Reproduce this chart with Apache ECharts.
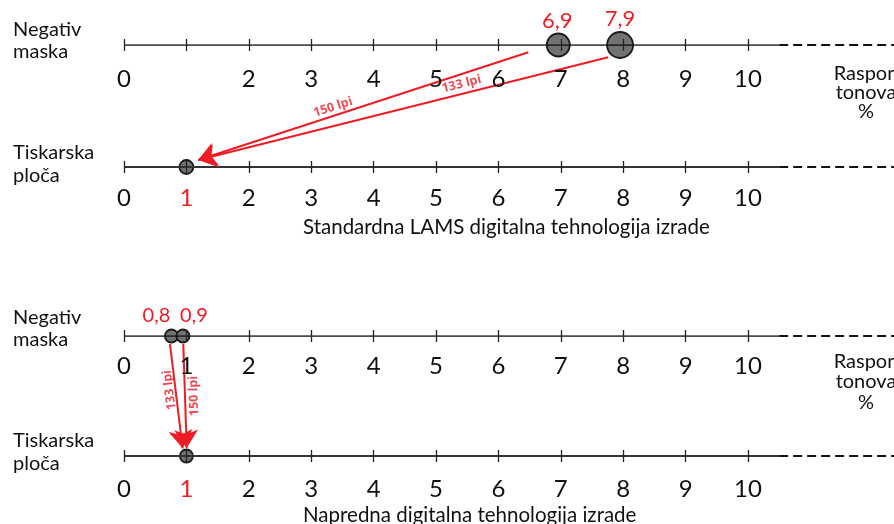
<!DOCTYPE html>
<html><head><meta charset="utf-8">
<script src="https://cdn.jsdelivr.net/npm/echarts@6/dist/echarts.min.js"></script>
<style>html,body{margin:0;padding:0;background:#fff}#c{width:894px;height:524px}</style>
</head><body><div id="c"></div>
<script>
// ---------- data ----------
const tickValues = [0,1,2,3,4,5,6,7,8,9,10];
const stdNegTickLabels = [0,2,3,4,5,6,7,8,9,10];
const allTickLabels = [0,1,2,3,4,5,6,7,8,9,10];
const highlightTick = 1;
const axisSolidEnd = 10.5;
const axisDashedEnd = 12.34;

// Standardna LAMS digitalna tehnologija izrade
const stdNegValues = [6.96, 7.95];
const stdNegLabels = ['6,9', '7,9'];
const stdPlateValues = [1];
const stdArrowNames = ['150 lpi', '133 lpi'];
const stdArrowFrom = [[6.48, 0.94], [7.76, 0.90]];
const stdArrowTo = [[1.19, 0.057], [1.19, 0.057]];
const stdArrowLabelAt = [[3.35, 0.49], [5.41, 0.68]];
const stdArrowAngle = [18, 14];

// Napredna digitalna tehnologija izrade
const advNegValues = [0.76, 0.945];
const advNegLabels = ['0,8', '0,9'];
const advPlateValues = [1];
const advArrowNames = ['133 lpi', '150 lpi'];
const advArrowFrom = [[0.737, 0.933], [0.95, 0.933]];
const advArrowTo = [[0.94, 0.064], [1.005, 0.067]];
const advArrowLabelAt = [[0.73, 0.55], [1.12, 0.5]];
const advArrowAngle = [97, 92];

// ---------- styles ----------
const RED = '#ee1c24';
const FONT = 'Lato';
const stdNegSizes = [23, 26];
const stdNegOffsets = [[-1, 0], [0, 0]];
const advNegOffsets = [[-15, 0], [11, 0]];

const chart = echarts.init(document.getElementById('c'), null, {renderer: 'canvas'});

function tickAxis(grid, labels, red, margin) {
  return {
    type: 'value', gridIndex: grid, position: 'bottom', min: 0, max: axisDashedEnd,
    offset: -6, z: 10,
    axisLine: {show: false},
    splitLine: {show: false},
    axisTick: {show: true, customValues: tickValues, length: 12, inside: false,
      lineStyle: {color: '#222', width: 1.3}},
    axisLabel: {show: true, customValues: labels, margin: margin,
      fontFamily: FONT, fontSize: 24, color: '#111',
      formatter: v => (red && v === highlightTick) ? '{r|' + v + '}' : String(v),
      rich: {r: {color: RED, fontFamily: FONT, fontSize: 24}}}
  };
}
function hiddenX(grid) {
  return {type: 'value', gridIndex: grid, position: 'top', min: 0, max: axisDashedEnd, show: false};
}
function yAxis(grid) {
  return {type: 'value', gridIndex: grid, min: 0, max: 1, show: false};
}
function baseLine(xi, y, width, color) {
  return [
    {type: 'line', xAxisIndex: xi, yAxisIndex: Math.floor(xi / 2), data: [[0, y], [axisSolidEnd, y]],
      symbol: 'none', silent: true, z: 4, lineStyle: {color: color, width: width}},
    {type: 'line', xAxisIndex: xi, yAxisIndex: Math.floor(xi / 2), data: [[axisSolidEnd, y], [axisDashedEnd, y]],
      symbol: 'none', silent: true, z: 4, lineStyle: {color: '#111', width: 1.8, type: [9, 5]}}
  ];
}
function markers(xi, y, values, labels, sizes, offsets, fontSize, dist) {
  return {
    type: 'scatter', xAxisIndex: xi, yAxisIndex: Math.floor(xi / 2), z: 2,
    itemStyle: {color: '#727272', borderColor: '#1a1a1a', borderWidth: 1.8, opacity: 1},
    label: {show: !!labels, position: 'top', distance: dist, color: RED, fontFamily: FONT, fontSize: fontSize},
    data: values.map((v, i) => ({
      value: [v, y], symbolSize: sizes[i],
      label: labels ? {formatter: labels[i], offset: offsets[i]} : undefined
    }))
  };
}
function arrows(xi, from, to) {
  return {
    type: 'lines', coordinateSystem: 'cartesian2d', xAxisIndex: xi, yAxisIndex: Math.floor(xi / 2), z: 6,
    symbol: ['none', 'arrow'], symbolSize: 18, silent: true,
    lineStyle: {color: RED, width: 2, opacity: 1, curveness: 0},
    data: from.map((f, i) => ({coords: [f, to[i]]}))
  };
}
function arrowLabels(xi, at, names, angles) {
  return {
    type: 'scatter', xAxisIndex: xi, yAxisIndex: Math.floor(xi / 2), z: 7, silent: true,
    symbolSize: 1, itemStyle: {color: 'rgba(0,0,0,0)'},
    label: {show: true, position: 'inside', color: RED, fontFamily: 'Open Sans', fontWeight: 'bold', fontSize: 12.5},
    data: at.map((p, i) => ({value: p, label: {formatter: names[i], rotate: angles[i]}}))
  };
}

const option = {
  backgroundColor: '#fff',
  animation: false,
  grid: [
    {left: 124, right: 0, top: 45, height: 122},
    {left: 124, right: 0, top: 336, height: 120},
    {left: 124, right: 0, top: 5, height: 40},
    {left: 124, right: 0, top: 296, height: 40}
  ],
  xAxis: [
    hiddenX(0),
    tickAxis(0, allTickLabels, true, 25),
    hiddenX(1),
    tickAxis(1, allTickLabels, true, 27),
    tickAxis(2, stdNegTickLabels, false, 28),
    tickAxis(3, allTickLabels, false, 24)
  ],
  yAxis: [yAxis(0), yAxis(1), yAxis(2), yAxis(3)],
  series: [
    ...baseLine(0, 1, 1.6, '#111'),
    ...baseLine(1, 0, 2, '#333'),
    ...baseLine(2, 1, 1.6, '#111'),
    ...baseLine(3, 0, 2, '#333'),
    markers(0, 1, stdNegValues, stdNegLabels, stdNegSizes, stdNegOffsets, 22, 1),
    markers(1, 0, stdPlateValues, null, [14], null, 18, 3),
    markers(2, 1, advNegValues, advNegLabels, [13, 13], advNegOffsets, 20, 3),
    markers(3, 0, advPlateValues, null, [13], null, 18, 3),
    arrows(0, stdArrowFrom, stdArrowTo),
    arrows(2, advArrowFrom, advArrowTo),
    arrowLabels(0, stdArrowLabelAt, stdArrowNames, stdArrowAngle),
    arrowLabels(2, advArrowLabelAt, advArrowNames, advArrowAngle)
  ],
  graphic: [
    {type: 'text', x: 13, y: 19, style: {text: 'Negativ\nmaska', font: '20px ' + FONT, fill: '#111', lineHeight: 22, verticalAlign: 'top'}},
    {type: 'text', x: 13, y: 141, style: {text: 'Tiskarska\nploča', font: '20px ' + FONT, fill: '#111', lineHeight: 23, verticalAlign: 'top'}},
    {type: 'text', x: 13, y: 307, style: {text: 'Negativ\nmaska', font: '20px ' + FONT, fill: '#111', lineHeight: 22, verticalAlign: 'top'}},
    {type: 'text', x: 13, y: 429, style: {text: 'Tiskarska\nploča', font: '20px ' + FONT, fill: '#111', lineHeight: 23, verticalAlign: 'top'}},
    {type: 'text', x: 866, y: 64, style: {text: 'Raspon\ntonova\n%', font: '20px ' + FONT, fill: '#111', lineHeight: 19, align: 'center', verticalAlign: 'top'}},
    {type: 'text', x: 866, y: 351, style: {text: 'Raspon\ntonova\n%', font: '20px ' + FONT, fill: '#111', lineHeight: 20.5, align: 'center', verticalAlign: 'top'}},
    {type: 'text', x: 303, y: 227, style: {text: 'Standardna LAMS digitalna tehnologija izrade', font: '20.5px ' + FONT, fill: '#111', verticalAlign: 'middle'}},
    {type: 'text', x: 303, y: 515, style: {text: 'Napredna digitalna tehnologija izrade', font: '20.5px ' + FONT, fill: '#111', verticalAlign: 'middle'}}
  ]
};
chart.setOption(option);
</script></body></html>
